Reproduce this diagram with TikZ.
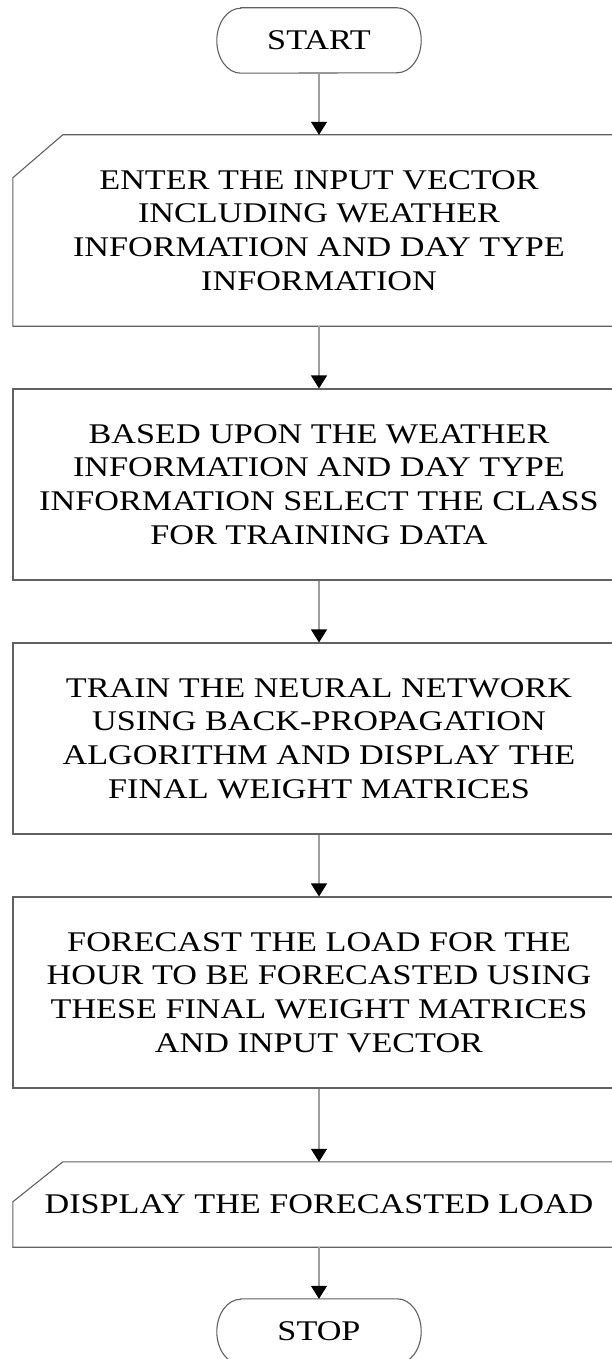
\documentclass[tikz,border=0pt]{standalone}
\usepackage{fontspec}
\setmainfont{Liberation Serif}[FakeStretch=1.2]
\usetikzlibrary{arrows.meta}

\tikzset{
  boxline/.style={draw=black!62, line width=1.1pt},
  txt/.style={font=\fontsize{28.5}{33.8}\selectfont, align=center, text=black, inner sep=0pt},
  terminal/.style={txt, minimum width=204pt, minimum height=65pt},
  process/.style={txt, boxline, minimum width=612pt, minimum height=191pt},
  manual/.style={txt, minimum width=612pt},
  flow/.style={draw=black!38, line width=1.1pt, -{Triangle[width=16pt,length=13pt,color=black]}}
}

\begin{document}
\begin{tikzpicture}[x=1pt,y=1pt]
  \useasboundingbox (0,0) rectangle (612,-1359);
  \clip (0,0) rectangle (612,-1359);

  % nodes of the chart
  \node[terminal] (start) at (319,-40.5) {START};
  \node[manual, minimum height=191pt] (input) at (319,-230.5)
    {ENTER THE INPUT VECTOR\\INCLUDING WEATHER\\INFORMATION AND DAY TYPE\\INFORMATION};
  \node[process] (select) at (319,-484.5)
    {BASED UPON THE WEATHER\\INFORMATION AND DAY TYPE\\INFORMATION SELECT THE CLASS\\FOR TRAINING DATA};
  \node[process] (train) at (319,-738.5)
    {TRAIN THE NEURAL NETWORK\\USING BACK-PROPAGATION\\ALGORITHM AND DISPLAY THE\\FINAL WEIGHT MATRICES};
  \node[process] (forecast) at (319,-992.5)
    {FORECAST THE LOAD FOR THE\\HOUR TO BE FORECASTED USING\\THESE FINAL WEIGHT MATRICES\\AND INPUT VECTOR};
  \node[manual, minimum height=85pt] (display) at (319,-1204.5)
    {DISPLAY THE FORECASTED LOAD};
  \node[terminal] (stop) at (319,-1331.5) {STOP};

  % terminal outlines with elliptical ends
  \foreach \t in {start,stop}{
    \draw[boxline] ([xshift=24pt]\t.north west) -- ([xshift=-24pt]\t.north east)
      arc[start angle=90, end angle=-90, x radius=24pt, y radius=32.5pt]
      -- ([xshift=24pt]\t.south west)
      arc[start angle=270, end angle=90, x radius=24pt, y radius=32.5pt] -- cycle;
  }

  % manual-input outlines with the cut top-left corner
  \draw[boxline] ([yshift=-43pt]input.north west) -- ([xshift=50pt]input.north west)
    -- (input.north east) -- (input.south east) -- (input.south west) -- cycle;
  \draw[boxline] ([yshift=-40pt]display.north west) -- ([xshift=50pt]display.north west)
    -- (display.north east) -- (display.south east) -- (display.south west) -- cycle;

  % connectors
  \draw[flow] (start) -- (input);
  \draw[flow] (input) -- (select);
  \draw[flow] (select) -- (train);
  \draw[flow] (train) -- (forecast);
  \draw[flow] (forecast) -- (display);
  \draw[flow] (display) -- (stop);
\end{tikzpicture}
\end{document}
